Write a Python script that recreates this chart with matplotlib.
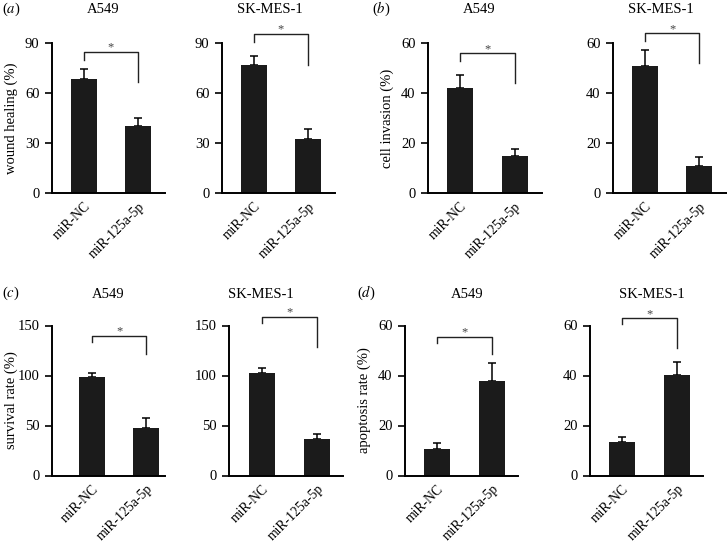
import matplotlib
matplotlib.use("Agg")
import matplotlib.pyplot as plt

plt.rcParams["font.family"] = ["Liberation Serif", "DejaVu Serif"]
plt.rcParams["mathtext.fontset"] = "stix"

# ------------------------------------------------------------------
# Data
# ------------------------------------------------------------------
cell_lines = ["A549", "SK-MES-1"]
groups = ["miR-NC", "miR-125a-5p"]

panel_letters = ["a", "b", "c", "d"]
y_labels = ["wound healing (%)", "cell invasion (%)",
            "survival rate (%)", "apoptosis rate (%)"]
y_ticks = [[0, 30, 60, 90], [0, 20, 40, 60],
           [0, 50, 100, 150], [0, 20, 40, 60]]

# means[panel][cell line] -> [miR-NC, miR-125a-5p]
wound_means = [[68.3, 40.3], [76.7, 32.4]]
wound_errs = [[6.0, 4.8], [5.6, 6.1]]
invasion_means = [[41.9, 14.8], [50.9, 11.0]]
invasion_errs = [[5.3, 2.9], [6.4, 3.4]]
survival_means = [[99.0, 47.7], [102.1, 36.8]]
survival_errs = [[4.0, 10.0], [5.0, 5.0]]
apoptosis_means = [[10.7, 38.0], [13.3, 40.3]]
apoptosis_errs = [[2.3, 6.9], [2.0, 5.2]]

# significance bracket: [top, left end, right end]
wound_brackets = [[84.8, 79.7, 66.3], [95.6, 90.8, 76.9]]
invasion_brackets = [[56.1, 52.8, 44.1], [64.0, 60.7, 51.9]]
survival_brackets = [[140.0, 133.2, 121.5], [159.0, 152.3, 128.9]]
apoptosis_brackets = [[55.6, 52.9, 48.5], [62.9, 60.5, 51.2]]

means = [wound_means, invasion_means, survival_means, apoptosis_means]
errs = [wound_errs, invasion_errs, survival_errs, apoptosis_errs]
brackets = [wound_brackets, invasion_brackets, survival_brackets, apoptosis_brackets]

# ------------------------------------------------------------------
# Layout (pixels of a 727 x 548 canvas)
# ------------------------------------------------------------------
W, H = 727, 548
ax_left_px = [[52, 222], [428, 613], [52, 229], [405, 590]]
ax_width_px = [[113, 113], [114, 114], [113, 114], [113, 113]]
ax_bottom_px = [193, 193, 475.5, 475.5]
ax_height_px = 150
xlims = [[(-0.58, 1.49), (-0.58, 1.49)], [(-0.58, 1.50), (-0.60, 1.52)],
         [(-0.74, 1.35), (-0.61, 1.48)], [(-0.585, 1.48), (-0.585, 1.48)]]
title_x = [[0.45, 0.42], [0.45, 0.42], [0.50, 0.28], [0.55, 0.55]]
title_y = [1.225, 1.225, 1.205, 1.205]
letter_pos = [(2, 9), (372, 9), (2, 293), (357, 293)]

bar_color = "#1b1b1b"
bar_width = 0.477
fs = 10.5

fig = plt.figure(figsize=(W / 100, H / 100), dpi=100)

for p in range(4):
    fig.text(letter_pos[p][0] / W, 1 - letter_pos[p][1] / H,
             r"($\mathit{%s}$)" % panel_letters[p],
             ha="left", va="center", fontsize=fs)
    for c in range(2):
        ax = fig.add_axes([ax_left_px[p][c] / W,
                           1 - ax_bottom_px[p] / H,
                           ax_width_px[p][c] / W,
                           ax_height_px / H])
        x = [0, 1]
        m = means[p][c]
        e = errs[p][c]
        ax.errorbar(x, m, yerr=[[0, 0], e], fmt="none", ecolor="black",
                    elinewidth=1.1, capsize=3.0, capthick=1.1, zorder=1)
        ax.bar(x, m, width=bar_width, color=bar_color, zorder=2)

        top, lend, rend = brackets[p][c]
        ax.plot([0, 0, 1, 1], [lend, top, top, rend], color="#222222",
                lw=1.0, clip_on=False, zorder=3)
        ax.annotate("*", xy=(0.5, top), xytext=(0, -1.5),
                    textcoords="offset points", ha="center", va="bottom",
                    fontsize=9, color="#444444", annotation_clip=False)

        ax.set_xlim(*xlims[p][c])
        ax.set_ylim(0, y_ticks[p][-1])
        ax.set_yticks(y_ticks[p])
        ax.set_xticks(x)
        ax.set_xticklabels(groups, rotation=45, ha="right", va="top",
                           rotation_mode="anchor", fontsize=9.8)
        ax.tick_params(axis="x", length=0, pad=5)
        ax.tick_params(axis="y", length=5, width=1.2, labelsize=fs, pad=4)
        for s in ("top", "right"):
            ax.spines[s].set_visible(False)
        for s in ("left", "bottom"):
            ax.spines[s].set_linewidth(1.4)

        ax.text(title_x[p][c], title_y[p], cell_lines[c], transform=ax.transAxes,
                ha="center", va="center", fontsize=fs)
        if c == 0:
            ax.set_ylabel(y_labels[p], fontsize=fs)
            ax.yaxis.set_label_coords(-0.30, 0.5)

fig.savefig("out.png", dpi=100)
